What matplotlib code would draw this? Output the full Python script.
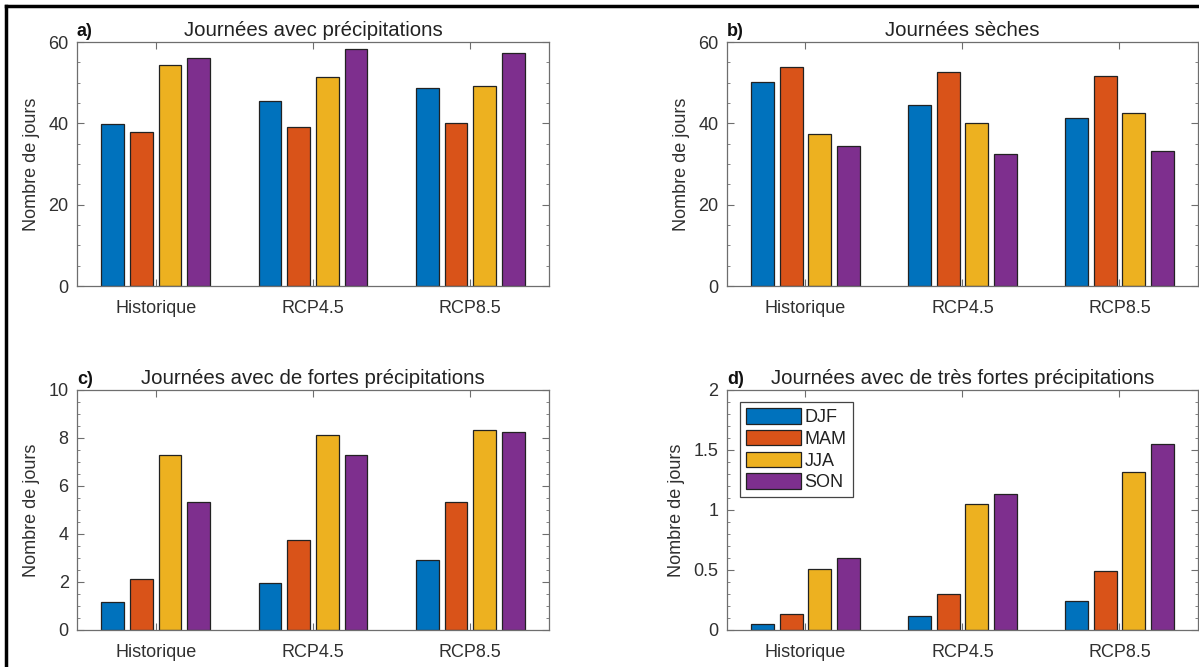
import numpy as np
import matplotlib
matplotlib.use('Agg')
import matplotlib.pyplot as plt
from matplotlib.lines import Line2D
from matplotlib.ticker import MultipleLocator, FuncFormatter

plt.rcParams['font.family'] = ['Liberation Sans', 'DejaVu Sans']

# donnees
scenarios = ['Historique', 'RCP4.5', 'RCP8.5']
saisons = ['DJF', 'MAM', 'JJA', 'SON']

precip_djf = [39.8, 45.5, 48.6]
precip_mam = [37.9, 39.1, 40.2]
precip_jja = [54.3, 51.5, 49.2]
precip_son = [56.1, 58.4, 57.4]

seches_djf = [50.2, 44.4, 41.2]
seches_mam = [53.9, 52.6, 51.6]
seches_jja = [37.5, 40.2, 42.5]
seches_son = [34.5, 32.4, 33.2]

fortes_djf = [1.15, 1.96, 2.93]
fortes_mam = [2.14, 3.74, 5.32]
fortes_jja = [7.29, 8.13, 8.32]
fortes_son = [5.32, 7.29, 8.23]

tres_fortes_djf = [0.05, 0.12, 0.24]
tres_fortes_mam = [0.13, 0.30, 0.49]
tres_fortes_jja = [0.51, 1.05, 1.32]
tres_fortes_son = [0.60, 1.13, 1.55]

titres = ['Journées avec précipitations', 'Journées sèches',
          'Journées avec de fortes précipitations',
          'Journées avec de très fortes précipitations']
lettres = ['a)', 'b)', 'c)', 'd)']

# couleurs matlab par defaut
couleurs = ['#0072BD', '#D95319', '#EDB120', '#7E2F8E']
gris = '#6e6e6e'
texte = '#303030'

panneaux = [
    [precip_djf, precip_mam, precip_jja, precip_son],
    [seches_djf, seches_mam, seches_jja, seches_son],
    [fortes_djf, fortes_mam, fortes_jja, fortes_son],
    [tres_fortes_djf, tres_fortes_mam, tres_fortes_jja, tres_fortes_son],
]
ylims = [60, 60, 10, 2]
majeurs = [20, 20, 2, 0.5]
mineurs = [5, 5, 0.5, 0.1]

# positions des axes en fraction de la figure
positions = [
    [0.0642, 0.5712, 0.3937, 0.3658],
    [0.6063, 0.5712, 0.3928, 0.3658],
    [0.0642, 0.0555, 0.3937, 0.3598],
    [0.6063, 0.0555, 0.3928, 0.3598],
]

fig = plt.figure(figsize=(11.99, 6.67), dpi=100)

x = np.arange(1, len(scenarios) + 1)
pas = 0.182
largeur = 0.145

for i in range(4):
    ax = fig.add_axes(positions[i])
    series = panneaux[i]
    for k in range(4):
        ax.bar(x + (k - 1.5) * pas, series[k], width=largeur, color=couleurs[k],
               edgecolor='#222222', linewidth=0.9, label=saisons[k], zorder=2)
    ax.set_xlim(0.5, 3.5)
    ax.set_ylim(0, ylims[i])
    ax.set_xticks(x)
    ax.set_xticklabels(scenarios)
    ax.yaxis.set_major_locator(MultipleLocator(majeurs[i]))
    ax.yaxis.set_minor_locator(MultipleLocator(mineurs[i]))
    ax.yaxis.set_major_formatter(FuncFormatter(lambda v, p: '%g' % v))
    ax.tick_params(axis='both', which='both', direction='in', top=True, right=True,
                   colors=gris, labelcolor=texte, labelsize=13)
    ax.tick_params(axis='both', which='major', length=5, width=0.8)
    ax.tick_params(axis='y', which='minor', length=2.5, width=0.6)
    ax.tick_params(axis='x', which='major', pad=10)
    ax.tick_params(axis='y', which='major', pad=6)
    for s in ax.spines.values():
        s.set_color(gris)
        s.set_linewidth(0.9)
    ax.set_ylabel('Nombre de jours', fontsize=13, color=texte, labelpad=6)
    ax.set_title(titres[i], fontsize=14.7, color='#222222', pad=4)
    ax.text(0.0, 1.01, lettres[i], transform=ax.transAxes, fontsize=13,
            fontweight='bold', color='#111111', ha='left', va='bottom')
    if i == 3:
        leg = ax.legend(loc='upper left', bbox_to_anchor=(0.028, 0.95), fontsize=13,
                        handlelength=3.0, handleheight=0.95, handletextpad=0.2,
                        labelspacing=0.2, borderpad=0.35, borderaxespad=0,
                        fancybox=False, framealpha=1)
        leg.get_frame().set_edgecolor('#444444')
        leg.get_frame().set_linewidth(0.9)
        for t in leg.get_texts():
            t.set_color('#222222')

# cadre noir autour de la figure
fig.add_artist(Line2D([0.005, 0.005], [0, 0.991], color='black', linewidth=2.5))
fig.add_artist(Line2D([0.005, 1], [0.991, 0.991], color='black', linewidth=2.5))

fig.savefig('out.png', dpi=100)
